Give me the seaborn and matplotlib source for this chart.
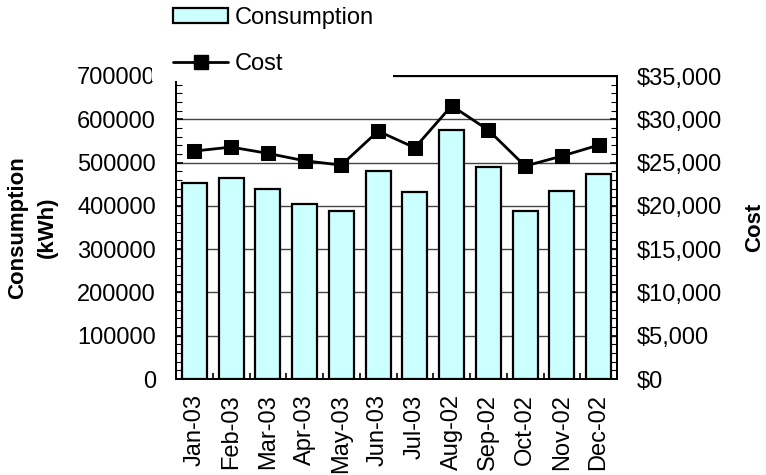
import matplotlib
matplotlib.use("Agg")
import matplotlib.pyplot as plt
import matplotlib.ticker as mticker
from matplotlib.patches import Patch, Rectangle
from matplotlib.lines import Line2D
import seaborn as sns
import pandas as pd
import numpy as np

months = ["Jan-03", "Feb-03", "Mar-03", "Apr-03", "May-03", "Jun-03",
          "Jul-03", "Aug-02", "Sep-02", "Oct-02", "Nov-02", "Dec-02"]
consumption_kwh = [452000, 463500, 438800, 403500, 388700, 481000,
                   432600, 575000, 490300, 388700, 434900, 472700]
cost_usd = [26330, 26790, 26060, 25210, 24710, 28640,
            26710, 31560, 28750, 24600, 25750, 27020]

df = pd.DataFrame({"month": months, "consumption": consumption_kwh, "cost": cost_usd})

sns.set_style("white")
plt.rcParams["font.family"] = ["Liberation Sans", "DejaVu Sans"]
FS = 17
plt.rcParams.update({
    "font.size": FS,
    "text.color": "black",
    "axes.labelcolor": "black",
    "xtick.color": "black",
    "ytick.color": "black",
})

fig = plt.figure(figsize=(7.66, 4.75), dpi=100)
ax = fig.add_axes([176 / 766, 1 - 379 / 475, 441 / 766, 303 / 475])

bar_fill = "#CCFFFF"
sns.barplot(data=df, x="month", y="consumption", ax=ax, color=bar_fill,
            edgecolor="black", linewidth=1.6, width=0.68, saturation=1, zorder=2)

ax.set_ylim(0, 700000)
ax.set_xlim(-0.5, len(months) - 0.5)
ax.yaxis.set_major_locator(mticker.MultipleLocator(100000))
ax.yaxis.set_minor_locator(mticker.MultipleLocator(20000))
ax.grid(axis="y", which="major", color="#444444", linewidth=1.0, zorder=0)
ax.set_axisbelow(True)
ax.tick_params(axis="y", which="major", direction="in", length=5, width=1.2,
               labelsize=FS, pad=14.5, left=True)
ax.tick_params(axis="y", which="minor", direction="in", length=4, width=0.8, left=True)
ax.set_xticks(range(len(months)))
ax.set_xticklabels(months, rotation=90)
ax.xaxis.set_minor_locator(mticker.FixedLocator(np.arange(0.5, len(months) - 0.5, 1)))
ax.tick_params(axis="x", which="major", length=0, labelsize=FS, pad=11)
ax.tick_params(axis="x", which="minor", direction="in", length=4, width=1.2, bottom=True)
ax.set_xlabel("")
ax.set_ylabel("Consumption\n(kWh)", fontsize=16, fontweight="bold", labelpad=14,
              linespacing=1.5)
for s in ax.spines.values():
    s.set_color("black")
    s.set_linewidth(1.4)

ax2 = ax.twinx()
sns.lineplot(data=df, x="month", y="cost", ax=ax2, color="black", linewidth=2.0,
             marker="s", markersize=10, markeredgecolor="black", sort=False, zorder=3)
ax2.set_ylim(0, 35000)
ax2.yaxis.set_major_locator(mticker.MultipleLocator(5000))
ax2.yaxis.set_minor_locator(mticker.MultipleLocator(1000))
ax2.yaxis.set_major_formatter(mticker.FuncFormatter(lambda v, p: f"${v:,.0f}"))
ax2.tick_params(axis="y", which="major", direction="in", length=5, width=1.2,
                labelsize=FS, pad=14, right=True)
ax2.tick_params(axis="y", which="minor", direction="in", length=4, width=0.8, right=True)
ax2.set_ylabel("Cost", fontsize=16, fontweight="bold", labelpad=16)
ax2.set_xlabel("")
for s in ax2.spines.values():
    s.set_color("black")
    s.set_linewidth(1.4)

# white block behind the legend, overlapping the top-left of the chart
fig.add_artist(Rectangle((152 / 766, 1 - 81 / 475), (393 - 152) / 766, 81 / 475,
                         transform=fig.transFigure, facecolor="white",
                         edgecolor="none", zorder=10))

handles = [
    Patch(facecolor=bar_fill, edgecolor="black", linewidth=1.6, label="Consumption"),
    Line2D([], [], color="black", linewidth=2.0, marker="s", markersize=10,
           label="Cost"),
]
leg = fig.legend(handles=handles, loc="upper left",
                 bbox_to_anchor=(173 / 766, 1 - 7 / 475), frameon=False,
                 fontsize=FS, handlelength=2.33, handleheight=0.6,
                 handletextpad=0.3, labelspacing=1.0, borderpad=0, borderaxespad=0)
leg.set_zorder(11)

fig.savefig("out.png", dpi=100)
